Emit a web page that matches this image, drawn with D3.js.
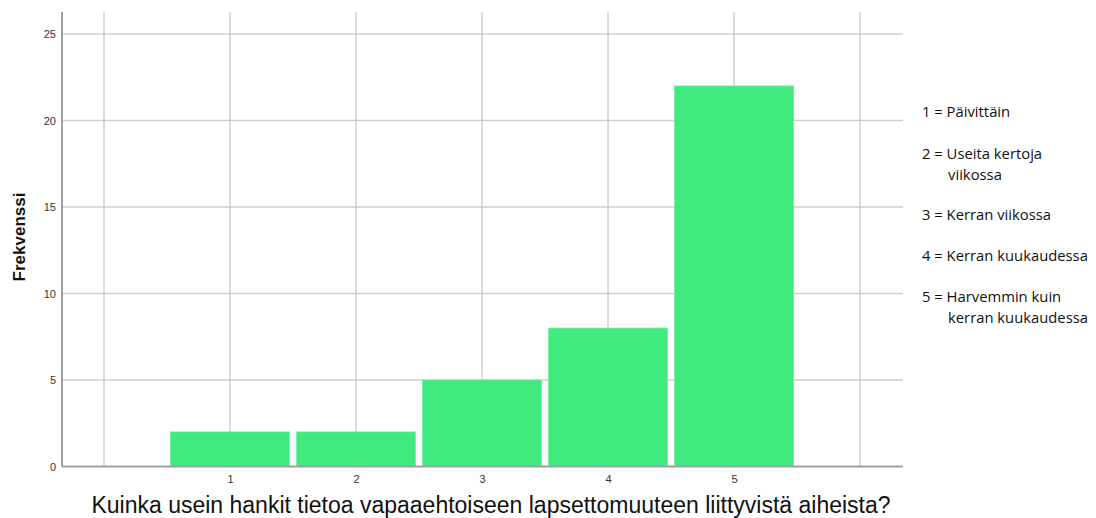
<!DOCTYPE html>
<html><head><meta charset="utf-8">
<script src="https://cdn.jsdelivr.net/npm/d3@7"></script>
<style>body{margin:0;background:#fff;} svg{display:block;}</style>
</head><body>
<svg id="c" width="1096" height="518"></svg>
<script>
const categories = [1, 2, 3, 4, 5];
const frequencies = [2, 2, 5, 8, 22];
const yTicks = [0, 5, 10, 15, 20, 25];
const xGrid = [0, 1, 2, 3, 4, 5, 6];
const legendLines = [
  ["1 = Päivittäin"],
  ["2 = Useita kertoja", "viikossa"],
  ["3 = Kerran viikossa"],
  ["4 = Kerran kuukaudessa"],
  ["5 = Harvemmin kuin", "kerran kuukaudessa"]
];
const xTitle = "Kuinka usein hankit tietoa vapaaehtoiseen lapsettomuuteen liittyvistä aiheista?";
const yTitle = "Frekvenssi";

(function () {
const svg = d3.select("#c");
const pLeft = 62, pRight = 903, pTop = 12, pBottom = 466.5;
const x = d3.scaleLinear().domain([-1/3, 6.341]).range([pLeft, pRight]);
const y = d3.scaleLinear().domain([0, 25]).range([pBottom, 34]);
const bw = (x(1) - x(0)) * 0.945;

// horizontal gridlines
svg.append("g").selectAll("line").data(yTicks.filter(d => d > 0)).join("line")
  .attr("x1", pLeft).attr("x2", pRight)
  .attr("y1", d => y(d)).attr("y2", d => y(d))
  .attr("stroke", "#cfcfcf").attr("stroke-width", 1.3);
// vertical gridlines
svg.append("g").selectAll("line").data(xGrid).join("line")
  .attr("x1", d => x(d)).attr("x2", d => x(d))
  .attr("y1", pTop).attr("y2", pBottom)
  .attr("stroke", "#bfbfbf").attr("stroke-width", 1.1);

// bars
svg.append("g").selectAll("rect").data(categories).join("rect")
  .attr("x", (d) => x(d) - bw / 2)
  .attr("width", bw)
  .attr("y", (d, i) => y(frequencies[i]))
  .attr("height", (d, i) => y(0) - y(frequencies[i]))
  .attr("fill", "#41ea7e")
  .attr("stroke", "#6ff0a0").attr("stroke-width", 0.8);

// axes lines
svg.append("line").attr("x1", pLeft).attr("x2", pLeft).attr("y1", pTop).attr("y2", pBottom)
  .attr("stroke", "#a0a0a0").attr("stroke-width", 2);
svg.append("line").attr("x1", pLeft).attr("x2", pRight).attr("y1", pBottom).attr("y2", pBottom)
  .attr("stroke", "#a0a0a0").attr("stroke-width", 2);

// y tick labels
const yAxis = d3.axisLeft(y).tickValues(yTicks).tickSize(0).tickPadding(6);
const gy = svg.append("g").attr("transform", `translate(${pLeft},0)`).call(yAxis);
gy.select(".domain").remove();
gy.selectAll("text").attr("font-family", "Liberation Sans, Arial, sans-serif")
  .attr("font-size", 11).attr("fill", "#333");

// x tick labels
const xAxis = d3.axisBottom(x).tickValues(categories).tickSize(0).tickPadding(9).tickFormat(d3.format("d"));
const gx = svg.append("g").attr("transform", `translate(0,${pBottom})`).call(xAxis);
gx.select(".domain").remove();
gx.selectAll("text").attr("font-family", "Liberation Sans, Arial, sans-serif")
  .attr("font-size", 11).attr("fill", "#333");

// titles
svg.append("text").attr("x", 491).attr("y", 513).attr("text-anchor", "middle")
  .attr("font-family", "Liberation Sans, Arial, sans-serif").attr("font-size", 23)
  .attr("fill", "#111").text(xTitle);
svg.append("text").attr("transform", "translate(25,237) rotate(-90)").attr("text-anchor", "middle")
  .attr("font-family", "Liberation Sans, Arial, sans-serif").attr("font-size", 17)
  .attr("font-weight", "bold").attr("fill", "#111").text(yTitle);

// legend
const lg = svg.append("g").attr("font-family", "'Open Sans', Lato, sans-serif").attr("font-size", 14.8).attr("fill", "#111");
const startY = [117, 159, 220, 261, 302];
legendLines.forEach((lines, i) => {
  lines.forEach((t, j) => {
    lg.append("text").attr("x", j === 0 ? 922 : 948).attr("y", startY[i] + j * 21).text(t);
  });
});
})();
</script>
</body></html>
